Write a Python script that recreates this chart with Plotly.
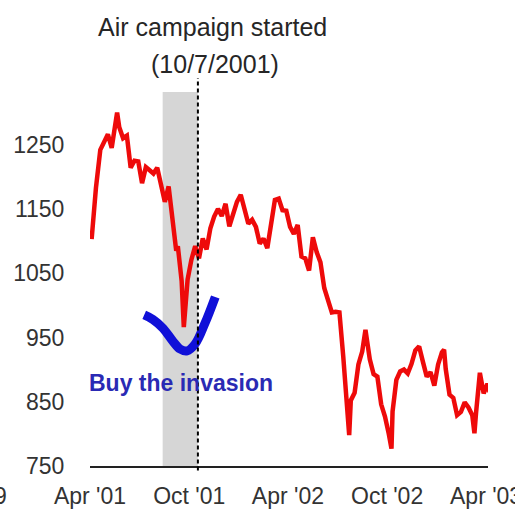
import plotly.graph_objects as go

# S&P 500 (approx. weekly closes)
dates = [
    "2001-04-04", "2001-04-06", "2001-04-12", "2001-04-20", "2001-04-27", "2001-05-04",
    "2001-05-11", "2001-05-18", "2001-05-21", "2001-05-25", "2001-06-01", "2001-06-08",
    "2001-06-15", "2001-06-22", "2001-06-29", "2001-07-06", "2001-07-13", "2001-07-20",
    "2001-07-27", "2001-08-03", "2001-08-10", "2001-08-17", "2001-08-24", "2001-08-31",
    "2001-09-07", "2001-09-10", "2001-09-17", "2001-09-21", "2001-09-28", "2001-10-05",
    "2001-10-12", "2001-10-19", "2001-10-26", "2001-11-02", "2001-11-09", "2001-11-16",
    "2001-11-23", "2001-11-30", "2001-12-07", "2001-12-14", "2001-12-21", "2001-12-28",
    "2002-01-04", "2002-01-11", "2002-01-18", "2002-01-25", "2002-02-01", "2002-02-08",
    "2002-02-15", "2002-02-22", "2002-03-01", "2002-03-08", "2002-03-15", "2002-03-22",
    "2002-03-29", "2002-04-05", "2002-04-12", "2002-04-19", "2002-04-26", "2002-05-03",
    "2002-05-10", "2002-05-17", "2002-05-24", "2002-05-31", "2002-06-07", "2002-06-14",
    "2002-06-21", "2002-06-28", "2002-07-05", "2002-07-12", "2002-07-19", "2002-07-23",
    "2002-07-26", "2002-08-02", "2002-08-09", "2002-08-16", "2002-08-22", "2002-08-30",
    "2002-09-06", "2002-09-13", "2002-09-20", "2002-09-27", "2002-10-04", "2002-10-09",
    "2002-10-11", "2002-10-18", "2002-10-25", "2002-11-01", "2002-11-08", "2002-11-15",
    "2002-11-22", "2002-11-29", "2002-12-06", "2002-12-13", "2002-12-20", "2002-12-27",
    "2003-01-03", "2003-01-10", "2003-01-14", "2003-01-17", "2003-01-24", "2003-01-31",
    "2003-02-07", "2003-02-14", "2003-02-21", "2003-02-28", "2003-03-07", "2003-03-11",
    "2003-03-14", "2003-03-21", "2003-03-28", "2003-04-04", "2003-04-08",
]
spx = [
    1103, 1128, 1183, 1242, 1253, 1266,
    1245, 1285, 1300, 1277, 1260, 1264,
    1214, 1225, 1224, 1190, 1215, 1210,
    1205, 1214, 1190, 1161, 1185, 1133,
    1085, 1092, 1038, 966, 1040, 1071,
    1092, 1073, 1104, 1087, 1120, 1138,
    1150, 1139, 1158, 1123, 1144, 1161,
    1172, 1146, 1127, 1133, 1122, 1096,
    1104, 1089, 1131, 1164, 1166, 1148,
    1147, 1122, 1111, 1125, 1076, 1073,
    1054, 1106, 1083, 1067, 1027, 1007,
    989, 990, 989, 921, 847, 798,
    852, 864, 908, 928, 962, 916,
    893, 889, 846, 827, 800, 777,
    835, 884, 897, 900, 894, 909,
    930, 936, 912, 889, 896, 875,
    908, 927, 931, 901, 861, 856,
    829, 834, 849, 841, 829, 801,
    833, 895, 863, 878, 865,
]

# Hand-drawn "buy" swoosh (date, level)
swoosh_x = ["2001-07-10", "2001-07-26", "2001-08-14", "2001-09-01", "2001-09-14",
            "2001-09-27", "2001-10-12", "2001-10-30", "2001-11-18"]
swoosh_y = [985, 978, 964, 944, 932, 929, 940, 972, 1013]

tick_vals = ["2001-04-01", "2001-10-01", "2002-04-01", "2002-10-01"]
tick_text = ["Apr '01", "Oct '01", "Apr '02", "Oct '02"]
last_tick_val = "2003-04-01"
last_tick_text = "Apr '03"
y_ticks = [750, 850, 950, 1050, 1150, 1250]

band = ["2001-08-13", "2001-10-17"]
event_date = "2001-10-17"

FONT = "Liberation Sans, Arial, sans-serif"

fig = go.Figure()
fig.add_trace(go.Scatter(x=dates, y=spx, mode="lines",
                         line=dict(color="#ee0a0a", width=4.5), hoverinfo="skip"))
fig.add_trace(go.Scatter(x=swoosh_x, y=swoosh_y, mode="lines",
                         line=dict(color="#1010d8", width=9, shape="spline"),
                         hoverinfo="skip", cliponaxis=False))

fig.add_shape(type="rect", xref="x", yref="paper", x0=band[0], x1=band[1], y0=0, y1=0.995,
              fillcolor="#d6d6d6", line_width=0, layer="below")
fig.add_shape(type="line", xref="x", yref="paper", x0=event_date, x1=event_date,
              y0=-0.012, y1=1.032, line=dict(color="black", width=2, dash="4px,3px"))

fig.add_annotation(text="Air campaign started", xref="paper", yref="paper", x=0.309, y=1.168,
                   showarrow=False, font=dict(family=FONT, size=25, color="#262626"),
                   xanchor="center", yanchor="middle")
fig.add_annotation(text="(10/7/2001)", xref="paper", yref="paper", x=0.314, y=1.07,
                   showarrow=False, font=dict(family=FONT, size=25, color="#262626"),
                   xanchor="center", yanchor="middle")
fig.add_annotation(text="<b>Buy the invasion</b>", xref="paper", yref="paper", x=-0.008, y=0.221,
                   showarrow=False, font=dict(family=FONT, size=23, color="#2a2ab4"),
                   xanchor="left", yanchor="middle")
fig.add_annotation(text="9", xref="paper", yref="paper", x=-0.204, y=-0.08,
                   showarrow=False, font=dict(family=FONT, size=23, color="#333333"),
                   xanchor="right", yanchor="middle")
fig.add_annotation(text=last_tick_text, xref="x", yref="paper", x=last_tick_val, y=-0.08,
                   showarrow=False, font=dict(family=FONT, size=23, color="#333333"),
                   xanchor="center", yanchor="middle")

fig.update_layout(
    width=515, height=517,
    margin=dict(l=90, r=27, t=90, b=51, autoexpand=False),
    paper_bgcolor="white", plot_bgcolor="white",
    showlegend=False,
    font=dict(family=FONT, size=23, color="#333333"),
    xaxis=dict(type="date", range=["2001-04-01", "2003-04-05"],
               tickvals=tick_vals, ticktext=tick_text, automargin=False,
               showgrid=False, zeroline=False,
               showline=True, linecolor="#222222", linewidth=2,
               ticks="outside", ticklen=8, tickcolor="rgba(0,0,0,0)",
               tickfont=dict(family=FONT, size=23, color="#333333")),
    yaxis=dict(range=[750, 1335], tickvals=y_ticks, automargin=False,
               showgrid=False, zeroline=False, showline=False,
               ticks="outside", ticklen=20, tickcolor="rgba(0,0,0,0)",
               tickfont=dict(family=FONT, size=23, color="#333333")),
)

fig.write_html("out.html")
